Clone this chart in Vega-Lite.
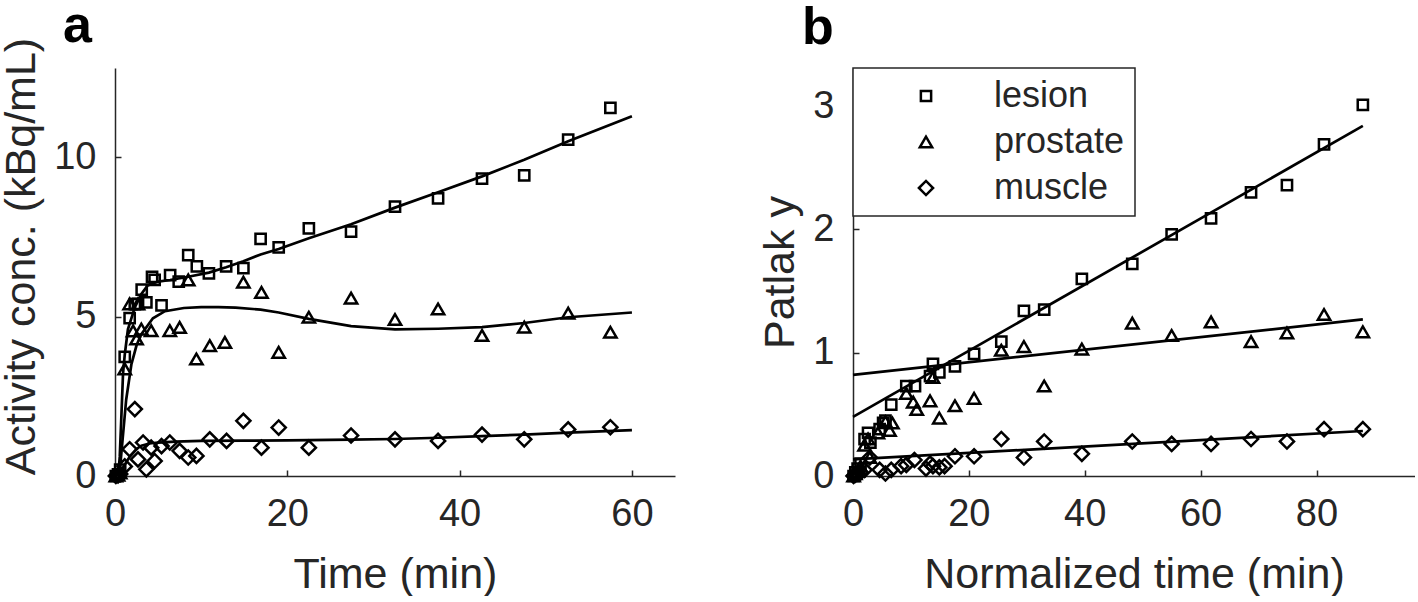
{
  "$schema": "https://vega.github.io/schema/vega-lite/v6.json",
  "background": "white",
  "padding": {"left": 0, "top": 0, "right": 0, "bottom": 0},
  "spacing": 84,
  "config": {
    "font": "Liberation Sans",
    "view": {"stroke": null},
    "axis": {
      "domainColor": "#262626", "domainWidth": 1.5,
      "tickColor": "#262626", "tickWidth": 1.5, "tickSize": -6,
      "labelFontSize": 38, "labelColor": "#262626", "labelPadding": 25, "labelFlush": false,
      "titleFontSize": 43, "titleFontWeight": "normal", "titleColor": "#262626",
      "grid": false, "format": "~g"
    },
    "axisX": {"titlePadding": 20},
    "axisY": {"titlePadding": 10},
    "legend": {
      "padding": 10, "strokeColor": "#262626", "fillColor": "white", "strokeWidth": 1.5,
      "labelFontSize": 36, "labelColor": "#262626", "symbolOffset": 45, "labelOffset": 50,
      "rowPadding": 10, "symbolStrokeColor": "black", "symbolFillColor": "transparent",
      "symbolStrokeWidth": 2.5, "cornerRadius": 0
    },
    "title": {"fontSize": 52, "fontWeight": "bold", "color": "black", "anchor": "start", "frame": "group"}
  },
  "resolve": {"scale": {"shape": "independent", "size": "independent"}, "legend": {"shape": "independent", "size": "independent"}},
  "datasets": {
    "aPts": [
      {"t":0.1,"v":0.0,"s":"lesion"},{"t":0.35,"v":0.05,"s":"lesion"},{"t":0.6,"v":0.2,"s":"lesion"},{"t":1.13,"v":3.74,"s":"lesion"},{"t":1.7,"v":4.95,"s":"lesion"},{"t":2.3,"v":5.39,"s":"lesion"},{"t":2.67,"v":5.4,"s":"lesion"},{"t":3.1,"v":5.85,"s":"lesion"},{"t":3.64,"v":5.45,"s":"lesion"},{"t":4.3,"v":6.25,"s":"lesion"},{"t":4.6,"v":6.15,"s":"lesion"},{"t":5.4,"v":5.35,"s":"lesion"},{"t":6.4,"v":6.3,"s":"lesion"},{"t":7.4,"v":6.1,"s":"lesion"},{"t":8.5,"v":6.93,"s":"lesion"},{"t":9.5,"v":6.58,"s":"lesion"},{"t":10.9,"v":6.36,"s":"lesion"},{"t":12.9,"v":6.58,"s":"lesion"},{"t":14.9,"v":6.52,"s":"lesion"},{"t":16.9,"v":7.44,"s":"lesion"},{"t":19.0,"v":7.17,"s":"lesion"},{"t":22.5,"v":7.77,"s":"lesion"},{"t":27.4,"v":7.67,"s":"lesion"},{"t":32.5,"v":8.45,"s":"lesion"},{"t":37.5,"v":8.71,"s":"lesion"},{"t":42.6,"v":9.33,"s":"lesion"},{"t":47.5,"v":9.43,"s":"lesion"},{"t":52.6,"v":10.55,"s":"lesion"},{"t":57.5,"v":11.55,"s":"lesion"},
      {"t":0.1,"v":0.0,"s":"prostate"},{"t":0.35,"v":0.03,"s":"prostate"},{"t":0.6,"v":0.1,"s":"prostate"},{"t":1.13,"v":3.36,"s":"prostate"},{"t":1.7,"v":5.4,"s":"prostate"},{"t":2.1,"v":4.55,"s":"prostate"},{"t":2.5,"v":4.3,"s":"prostate"},{"t":2.67,"v":5.4,"s":"prostate"},{"t":3.06,"v":4.61,"s":"prostate"},{"t":4.2,"v":4.56,"s":"prostate"},{"t":6.36,"v":4.56,"s":"prostate"},{"t":7.5,"v":4.66,"s":"prostate"},{"t":8.5,"v":6.15,"s":"prostate"},{"t":9.45,"v":3.67,"s":"prostate"},{"t":11.0,"v":4.09,"s":"prostate"},{"t":12.75,"v":4.19,"s":"prostate"},{"t":14.9,"v":6.08,"s":"prostate"},{"t":17.0,"v":5.76,"s":"prostate"},{"t":19.0,"v":3.88,"s":"prostate"},{"t":22.5,"v":4.98,"s":"prostate"},{"t":27.4,"v":5.58,"s":"prostate"},{"t":32.5,"v":4.91,"s":"prostate"},{"t":37.5,"v":5.24,"s":"prostate"},{"t":42.6,"v":4.41,"s":"prostate"},{"t":47.5,"v":4.67,"s":"prostate"},{"t":52.6,"v":5.11,"s":"prostate"},{"t":57.5,"v":4.51,"s":"prostate"},
      {"t":0.1,"v":0.0,"s":"muscle"},{"t":0.35,"v":0.02,"s":"muscle"},{"t":0.6,"v":0.06,"s":"muscle"},{"t":1.13,"v":0.3,"s":"muscle"},{"t":1.7,"v":0.84,"s":"muscle"},{"t":2.3,"v":2.1,"s":"muscle"},{"t":2.67,"v":0.52,"s":"muscle"},{"t":3.26,"v":1.05,"s":"muscle"},{"t":3.64,"v":0.21,"s":"muscle"},{"t":4.2,"v":0.89,"s":"muscle"},{"t":4.6,"v":0.47,"s":"muscle"},{"t":5.4,"v":0.94,"s":"muscle"},{"t":6.36,"v":1.05,"s":"muscle"},{"t":7.5,"v":0.79,"s":"muscle"},{"t":8.5,"v":0.58,"s":"muscle"},{"t":9.45,"v":0.63,"s":"muscle"},{"t":11.0,"v":1.15,"s":"muscle"},{"t":12.95,"v":1.1,"s":"muscle"},{"t":14.9,"v":1.73,"s":"muscle"},{"t":17.0,"v":0.89,"s":"muscle"},{"t":19.0,"v":1.52,"s":"muscle"},{"t":22.5,"v":0.89,"s":"muscle"},{"t":27.4,"v":1.27,"s":"muscle"},{"t":32.5,"v":1.15,"s":"muscle"},{"t":37.5,"v":1.1,"s":"muscle"},{"t":42.6,"v":1.3,"s":"muscle"},{"t":47.5,"v":1.15,"s":"muscle"},{"t":52.6,"v":1.46,"s":"muscle"},{"t":57.5,"v":1.53,"s":"muscle"}
    ],
    "aFit": [
      {"t":0,"v":0,"s":"lesion"},{"t":0.4,"v":0.1,"s":"lesion"},{"t":0.55,"v":0.6,"s":"lesion"},{"t":0.7,"v":1.6,"s":"lesion"},{"t":0.93,"v":3.2,"s":"lesion"},{"t":1.13,"v":3.8,"s":"lesion"},{"t":1.5,"v":4.6,"s":"lesion"},{"t":2.3,"v":5.29,"s":"lesion"},{"t":3.06,"v":5.71,"s":"lesion"},{"t":3.8,"v":5.98,"s":"lesion"},{"t":5,"v":6.1,"s":"lesion"},{"t":6.4,"v":6.15,"s":"lesion"},{"t":8.5,"v":6.25,"s":"lesion"},{"t":10.9,"v":6.38,"s":"lesion"},{"t":12.9,"v":6.55,"s":"lesion"},{"t":14.9,"v":6.74,"s":"lesion"},{"t":16.9,"v":6.95,"s":"lesion"},{"t":19,"v":7.12,"s":"lesion"},{"t":22.5,"v":7.46,"s":"lesion"},{"t":27.4,"v":7.9,"s":"lesion"},{"t":32.5,"v":8.42,"s":"lesion"},{"t":37.5,"v":8.9,"s":"lesion"},{"t":42.6,"v":9.4,"s":"lesion"},{"t":47.5,"v":9.92,"s":"lesion"},{"t":52.6,"v":10.5,"s":"lesion"},{"t":60,"v":11.29,"s":"lesion"},
      {"t":0,"v":0,"s":"prostate"},{"t":0.4,"v":0.05,"s":"prostate"},{"t":0.6,"v":0.3,"s":"prostate"},{"t":0.9,"v":1.2,"s":"prostate"},{"t":1.3,"v":2.4,"s":"prostate"},{"t":1.9,"v":3.5,"s":"prostate"},{"t":2.5,"v":4.1,"s":"prostate"},{"t":3.06,"v":4.45,"s":"prostate"},{"t":4.4,"v":4.95,"s":"prostate"},{"t":5.8,"v":5.17,"s":"prostate"},{"t":8,"v":5.27,"s":"prostate"},{"t":10,"v":5.3,"s":"prostate"},{"t":12,"v":5.3,"s":"prostate"},{"t":14,"v":5.28,"s":"prostate"},{"t":16.9,"v":5.22,"s":"prostate"},{"t":19,"v":5.13,"s":"prostate"},{"t":22.5,"v":4.93,"s":"prostate"},{"t":27.4,"v":4.7,"s":"prostate"},{"t":32.5,"v":4.6,"s":"prostate"},{"t":37.5,"v":4.62,"s":"prostate"},{"t":42.6,"v":4.67,"s":"prostate"},{"t":47.5,"v":4.8,"s":"prostate"},{"t":52.6,"v":4.98,"s":"prostate"},{"t":60,"v":5.13,"s":"prostate"},
      {"t":0,"v":0,"s":"muscle"},{"t":0.5,"v":0.08,"s":"muscle"},{"t":1,"v":0.3,"s":"muscle"},{"t":1.7,"v":0.6,"s":"muscle"},{"t":2.5,"v":0.85,"s":"muscle"},{"t":3.06,"v":0.95,"s":"muscle"},{"t":4,"v":1.02,"s":"muscle"},{"t":5,"v":1.05,"s":"muscle"},{"t":7,"v":1.08,"s":"muscle"},{"t":10,"v":1.1,"s":"muscle"},{"t":15,"v":1.11,"s":"muscle"},{"t":20,"v":1.12,"s":"muscle"},{"t":27.4,"v":1.14,"s":"muscle"},{"t":32.5,"v":1.16,"s":"muscle"},{"t":37.5,"v":1.2,"s":"muscle"},{"t":42.6,"v":1.25,"s":"muscle"},{"t":47.5,"v":1.3,"s":"muscle"},{"t":52.6,"v":1.36,"s":"muscle"},{"t":60,"v":1.44,"s":"muscle"}
    ],
    "bPts": [
      {"t":0.1,"v":0.0,"s":"lesion"},{"t":0.4,"v":0.03,"s":"lesion"},{"t":0.8,"v":0.06,"s":"lesion"},{"t":1.3,"v":0.1,"s":"lesion"},{"t":2.0,"v":0.3,"s":"lesion"},{"t":2.6,"v":0.35,"s":"lesion"},{"t":3.0,"v":0.27,"s":"lesion"},{"t":4.6,"v":0.38,"s":"lesion"},{"t":5.2,"v":0.43,"s":"lesion"},{"t":5.6,"v":0.45,"s":"lesion"},{"t":6.6,"v":0.58,"s":"lesion"},{"t":9.2,"v":0.73,"s":"lesion"},{"t":10.7,"v":0.73,"s":"lesion"},{"t":13.3,"v":0.81,"s":"lesion"},{"t":13.8,"v":0.91,"s":"lesion"},{"t":14.9,"v":0.84,"s":"lesion"},{"t":17.6,"v":0.89,"s":"lesion"},{"t":20.9,"v":0.99,"s":"lesion"},{"t":25.6,"v":1.09,"s":"lesion"},{"t":29.5,"v":1.34,"s":"lesion"},{"t":33.0,"v":1.35,"s":"lesion"},{"t":39.5,"v":1.6,"s":"lesion"},{"t":48.2,"v":1.72,"s":"lesion"},{"t":55.0,"v":1.96,"s":"lesion"},{"t":61.8,"v":2.09,"s":"lesion"},{"t":68.7,"v":2.3,"s":"lesion"},{"t":74.9,"v":2.36,"s":"lesion"},{"t":81.3,"v":2.69,"s":"lesion"},{"t":88.0,"v":3.01,"s":"lesion"},
      {"t":0.1,"v":0.0,"s":"prostate"},{"t":0.4,"v":0.02,"s":"prostate"},{"t":0.8,"v":0.04,"s":"prostate"},{"t":1.3,"v":0.08,"s":"prostate"},{"t":2.0,"v":0.25,"s":"prostate"},{"t":2.6,"v":0.3,"s":"prostate"},{"t":2.9,"v":0.15,"s":"prostate"},{"t":4.3,"v":0.35,"s":"prostate"},{"t":5.6,"v":0.44,"s":"prostate"},{"t":6.3,"v":0.37,"s":"prostate"},{"t":6.8,"v":0.43,"s":"prostate"},{"t":9.2,"v":0.67,"s":"prostate"},{"t":10.4,"v":0.6,"s":"prostate"},{"t":11.0,"v":0.54,"s":"prostate"},{"t":13.3,"v":0.61,"s":"prostate"},{"t":13.8,"v":0.8,"s":"prostate"},{"t":14.9,"v":0.47,"s":"prostate"},{"t":17.6,"v":0.57,"s":"prostate"},{"t":20.9,"v":0.63,"s":"prostate"},{"t":25.6,"v":1.02,"s":"prostate"},{"t":29.5,"v":1.05,"s":"prostate"},{"t":33.0,"v":0.73,"s":"prostate"},{"t":39.5,"v":1.03,"s":"prostate"},{"t":48.2,"v":1.24,"s":"prostate"},{"t":55.0,"v":1.14,"s":"prostate"},{"t":61.8,"v":1.25,"s":"prostate"},{"t":68.7,"v":1.09,"s":"prostate"},{"t":74.9,"v":1.16,"s":"prostate"},{"t":81.3,"v":1.31,"s":"prostate"},{"t":88.0,"v":1.17,"s":"prostate"},
      {"t":0.1,"v":0.0,"s":"muscle"},{"t":0.4,"v":0.01,"s":"muscle"},{"t":0.8,"v":0.02,"s":"muscle"},{"t":1.3,"v":0.03,"s":"muscle"},{"t":2.0,"v":0.05,"s":"muscle"},{"t":2.9,"v":0.15,"s":"muscle"},{"t":4.6,"v":0.05,"s":"muscle"},{"t":5.6,"v":0.02,"s":"muscle"},{"t":6.6,"v":0.05,"s":"muscle"},{"t":8.3,"v":0.08,"s":"muscle"},{"t":9.2,"v":0.09,"s":"muscle"},{"t":10.6,"v":0.13,"s":"muscle"},{"t":12.6,"v":0.06,"s":"muscle"},{"t":13.3,"v":0.1,"s":"muscle"},{"t":13.8,"v":0.08,"s":"muscle"},{"t":14.9,"v":0.07,"s":"muscle"},{"t":15.8,"v":0.08,"s":"muscle"},{"t":17.6,"v":0.16,"s":"muscle"},{"t":20.9,"v":0.16,"s":"muscle"},{"t":25.6,"v":0.3,"s":"muscle"},{"t":29.5,"v":0.15,"s":"muscle"},{"t":33.0,"v":0.28,"s":"muscle"},{"t":39.5,"v":0.18,"s":"muscle"},{"t":48.2,"v":0.28,"s":"muscle"},{"t":55.0,"v":0.26,"s":"muscle"},{"t":61.8,"v":0.26,"s":"muscle"},{"t":68.7,"v":0.3,"s":"muscle"},{"t":74.9,"v":0.28,"s":"muscle"},{"t":81.3,"v":0.38,"s":"muscle"},{"t":88.0,"v":0.38,"s":"muscle"}
    ],
    "bFit": [
      {"t":0,"v":0.48,"s":"lesion"},{"t":88,"v":2.84,"s":"lesion"},
      {"t":0,"v":0.82,"s":"prostate"},{"t":88,"v":1.27,"s":"prostate"},
      {"t":0,"v":0.135,"s":"muscle"},{"t":88,"v":0.365,"s":"muscle"}
    ]
  },
  "hconcat": [
    {
      "width": 560, "height": 408,
      "title": {"text": "a", "dx": -52, "offset": -16},
      "layer": [
        {
          "data": {"name": "aFit"},
          "mark": {"type": "line", "color": "black", "strokeWidth": 2.7},
          "encoding": {
            "x": {"field": "t", "type": "quantitative", "scale": {"domain": [0, 65], "nice": false}, "axis": {"values": [0, 20, 40, 60], "title": "Time (min)"}},
            "y": {"field": "v", "type": "quantitative", "scale": {"domain": [0, 12.8], "nice": false}, "axis": {"values": [0, 5, 10], "title": "Activity conc. (kBq/mL)", "titleY": 188}},
            "detail": {"field": "s"}
          }
        },
        {
          "data": {"name": "aPts"},
          "mark": {"type": "point", "filled": false, "color": "black", "strokeWidth": 2.5, "opacity": 1},
          "encoding": {
            "x": {"field": "t", "type": "quantitative"},
            "y": {"field": "v", "type": "quantitative"},
            "shape": {"field": "s", "type": "nominal", "scale": {"domain": ["lesion", "prostate", "muscle"], "range": ["square", "triangle-up", "diamond"]}, "legend": null},
            "size": {"field": "s", "type": "nominal", "scale": {"domain": ["lesion", "prostate", "muscle"], "range": [105, 200, 170]}, "legend": null}
          }
        }
      ]
    },
    {
      "width": 562, "height": 408,
      "title": {"text": "b", "dx": -51, "offset": 12},
      "layer": [
        {
          "data": {"name": "bFit"},
          "mark": {"type": "line", "color": "black", "strokeWidth": 2.7},
          "encoding": {
            "x": {"field": "t", "type": "quantitative", "scale": {"domain": [0, 97], "nice": false}, "axis": {"values": [0, 20, 40, 60, 80], "title": "Normalized time (min)"}},
            "y": {"field": "v", "type": "quantitative", "scale": {"domain": [0, 3.31], "nice": false}, "axis": {"values": [0, 1, 2, 3], "title": "Patlak y"}},
            "detail": {"field": "s"}
          }
        },
        {
          "data": {"name": "bPts"},
          "mark": {"type": "point", "filled": false, "color": "black", "strokeWidth": 2.5, "opacity": 1},
          "encoding": {
            "x": {"field": "t", "type": "quantitative"},
            "y": {"field": "v", "type": "quantitative"},
            "shape": {"field": "s", "type": "nominal", "scale": {"domain": ["lesion", "prostate", "muscle"], "range": ["square", "triangle-up", "diamond"]}, "legend": {"title": null, "orient": "top-left", "offset": 0}},
            "size": {"field": "s", "type": "nominal", "scale": {"domain": ["lesion", "prostate", "muscle"], "range": [105, 200, 170]}, "legend": {"title": null, "orient": "top-left", "offset": 0}}
          }
        }
      ]
    }
  ]
}
